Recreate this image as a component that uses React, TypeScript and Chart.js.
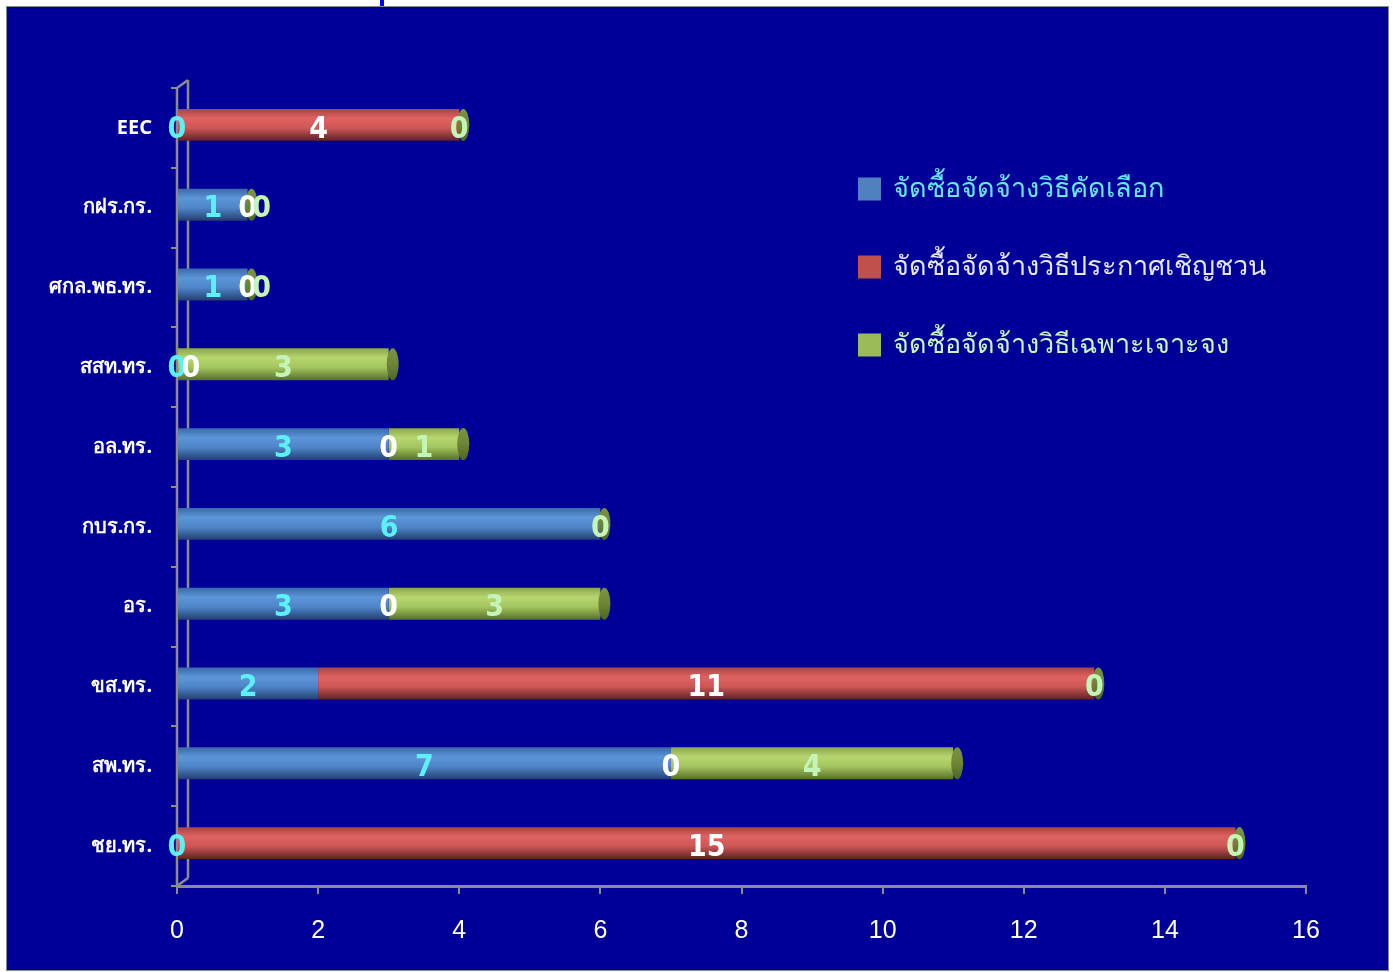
import React, { useEffect, useRef } from "react";
import { Chart, registerables } from "chart.js";

Chart.register(...registerables);

const categories = ["EEC", "กฝร.กร.", "ศกล.พธ.ทร.", "สสท.ทร.", "อล.ทร.", "กบร.กร.", "อร.", "ขส.ทร.", "สพ.ทร.", "ชย.ทร."];
const seriesNames = ["จัดซื้อจัดจ้างวิธีคัดเลือก", "จัดซื้อจัดจ้างวิธีประกาศเชิญชวน", "จัดซื้อจัดจ้างวิธีเฉพาะเจาะจง"];
const selectionValues = [0, 1, 1, 0, 3, 6, 3, 2, 7, 0];
const invitationValues: (number | null)[] = [4, 0, 0, 0, 0, null, 0, 11, 0, 15];
const specificValues = [0, 0, 0, 3, 1, 0, 3, 0, 4, 0];
const xMin = 0;
const xMax = 16;
const xStep = 2;

const legendColors = ["#4F81BD", "#C0504D", "#9BBB59"];
const labelColors = ["#5CF0F8", "#FFFFFF", "#C4F5B8"];
const legendTextColors = ["#66E6F6", "#E6E6FA", "#C8F5C0"];
const gradientStops = [
  ["#3A69A8", "#5C95D8", "#4F85C8", "#233F72"],
  ["#A94444", "#E06262", "#CC5656", "#5E2222"],
  ["#8AA64C", "#B6D66E", "#A4C45E", "#56702A"],
];
const BAR_HALF = 16;
const BAR_LIFT = 3;

function makeGradient(idx: number) {
  return (ctx: any) => {
    const chart = ctx.chart;
    if (ctx.type !== "data" || !chart.chartArea || !chart.scales.y) return legendColors[idx];
    const y = chart.scales.y.getPixelForValue(ctx.dataIndex);
    const g = chart.ctx.createLinearGradient(0, y - BAR_HALF, 0, y + BAR_HALF);
    const s = gradientStops[idx];
    g.addColorStop(0, s[0]);
    g.addColorStop(0.3, s[1]);
    g.addColorStop(0.6, s[2]);
    g.addColorStop(1, s[3]);
    return g;
  };
}

const wallPlugin = {
  id: "wall3d",
  beforeDatasetsDraw(chart: any) {
    const { ctx, chartArea } = chart;
    const dx = 11, dy = 8;
    ctx.save();
    ctx.strokeStyle = "#8C8C8C";
    ctx.lineWidth = 2.5;
    ctx.beginPath();
    ctx.moveTo(chartArea.left + dx, chartArea.top - dy);
    ctx.lineTo(chartArea.left + dx, chartArea.bottom - dy);
    ctx.moveTo(chartArea.left, chartArea.top);
    ctx.lineTo(chartArea.left + dx, chartArea.top - dy);
    ctx.moveTo(chartArea.left, chartArea.bottom);
    ctx.lineTo(chartArea.left + dx, chartArea.bottom - dy);
    ctx.moveTo(chartArea.left, chartArea.top);
    ctx.lineTo(chartArea.left, chartArea.bottom);
    ctx.stroke();
    ctx.restore();
  },
};

const liftPlugin = {
  id: "liftBars",
  beforeDatasetsDraw(chart: any) {
    chart.ctx.save();
    chart.ctx.translate(0, -BAR_LIFT);
  },
  afterDatasetsDraw(chart: any) {
    chart.ctx.restore();
  },
};

const capsAndLabelsPlugin = {
  id: "capsLabels",
  afterDatasetsDraw(chart: any) {
    const { ctx } = chart;
    const n = chart.data.labels.length;
    const lastMeta = chart.getDatasetMeta(chart.data.datasets.length - 1);
    ctx.save();
    for (let i = 0; i < n; i++) {
      const el = lastMeta.data[i];
      if (!el) continue;
      const x = el.x + 4;
      const y = el.y - BAR_LIFT;
      const g = ctx.createLinearGradient(0, y - BAR_HALF, 0, y + BAR_HALF);
      g.addColorStop(0, "#7C9440");
      g.addColorStop(0.5, "#6E8536");
      g.addColorStop(1, "#4E6424");
      ctx.fillStyle = g;
      ctx.beginPath();
      ctx.ellipse(x, y, 6, BAR_HALF, 0, 0, Math.PI * 2);
      ctx.fill();
    }
    ctx.font = 'bold 30px "Liberation Sans Narrow", "DejaVu Sans Condensed", "Liberation Sans", sans-serif';
    ctx.textAlign = "center";
    ctx.textBaseline = "middle";
    for (let i = 0; i < n; i++) {
      let prevX = -1000;
      chart.data.datasets.forEach((ds: any, d: number) => {
        const v = ds.data[i];
        if (v === null || v === undefined) return;
        const el = chart.getDatasetMeta(d).data[i];
        if (!el) return;
        let cx = (el.x + el.base) / 2;
        if (cx - prevX < 12) cx = prevX + 14;
        prevX = cx;
        ctx.fillStyle = labelColors[d];
        ctx.fillText(String(v), cx, el.y + 2);
      });
    }
    ctx.restore();
  },
};

const legendPlugin = {
  id: "sideLegend",
  afterDraw(chart: any) {
    const { ctx } = chart;
    ctx.save();
    ctx.font = '27px "Noto Sans", "DejaVu Sans", sans-serif';
    ctx.textBaseline = "middle";
    ctx.textAlign = "left";
    chart.data.datasets.forEach((ds: any, d: number) => {
      const cy = 189 + d * 78;
      ctx.fillStyle = legendColors[d];
      ctx.fillRect(858, cy - 11.5, 23, 23);
      ctx.fillStyle = legendTextColors[d];
      ctx.fillText(ds.label, 893, cy);
    });
    ctx.restore();
  },
};

export default function App() {
  const ref = useRef<HTMLCanvasElement | null>(null);
  useEffect(() => {
    if (!ref.current) return;
    const seriesData = [selectionValues, invitationValues, specificValues];
    const chart = new Chart(ref.current, {
      type: "bar",
      data: {
        labels: categories,
        datasets: seriesData.map((data, i) => ({
          label: seriesNames[i],
          data: data as any,
          backgroundColor: makeGradient(i) as any,
          borderWidth: 0,
          categoryPercentage: 0.8,
          barPercentage: 0.5,
        })),
      },
      options: {
        indexAxis: "y",
        responsive: false,
        animation: false,
        layout: { padding: { left: 0, top: 88, right: 87, bottom: 0 } },
        plugins: {
          legend: { display: false },
          tooltip: { enabled: false },
        },
        scales: {
          x: {
            stacked: true,
            min: xMin,
            max: xMax,
            ticks: {
              stepSize: xStep,
              color: "#FFFFFF",
              font: { family: '"Liberation Sans", sans-serif', size: 25 },
              padding: 22,
            },
            grid: { drawOnChartArea: false, color: "#8C8C8C", tickLength: 8, lineWidth: 2 },
            border: { color: "#8C8C8C", width: 3 },
            afterFit: (s: any) => { s.height = 86; },
          },
          y: {
            stacked: true,
            ticks: {
              color: "#FFFFFF",
              font: { family: '"Noto Sans", "DejaVu Sans", sans-serif', size: 20, weight: "bold" },
              padding: 19,
            },
            grid: { drawOnChartArea: false, color: "#8C8C8C", tickLength: 6, lineWidth: 2, offset: true },
            border: { color: "#8C8C8C", width: 2 },
            afterFit: (s: any) => { s.width = 177; },
          },
        },
      },
      plugins: [wallPlugin, liftPlugin, capsAndLabelsPlugin, legendPlugin],
    });
    return () => chart.destroy();
  }, []);

  return (
    <div style={{ position: "fixed", left: 0, top: 0, width: 1393, height: 972, background: "#FFFFFF" }}>
      <div style={{ position: "absolute", left: 380, top: 0, width: 4, height: 6, background: "#0000FF" }} />
      <div
        style={{
          position: "absolute",
          left: 6,
          top: 6,
          width: 1381,
          height: 963,
          background: "#000099",
          border: "1px solid #8A8A8A",
        }}
      />
      <canvas ref={ref} width={1393} height={972} style={{ position: "absolute", left: 0, top: 0 }} />
    </div>
  );
}
